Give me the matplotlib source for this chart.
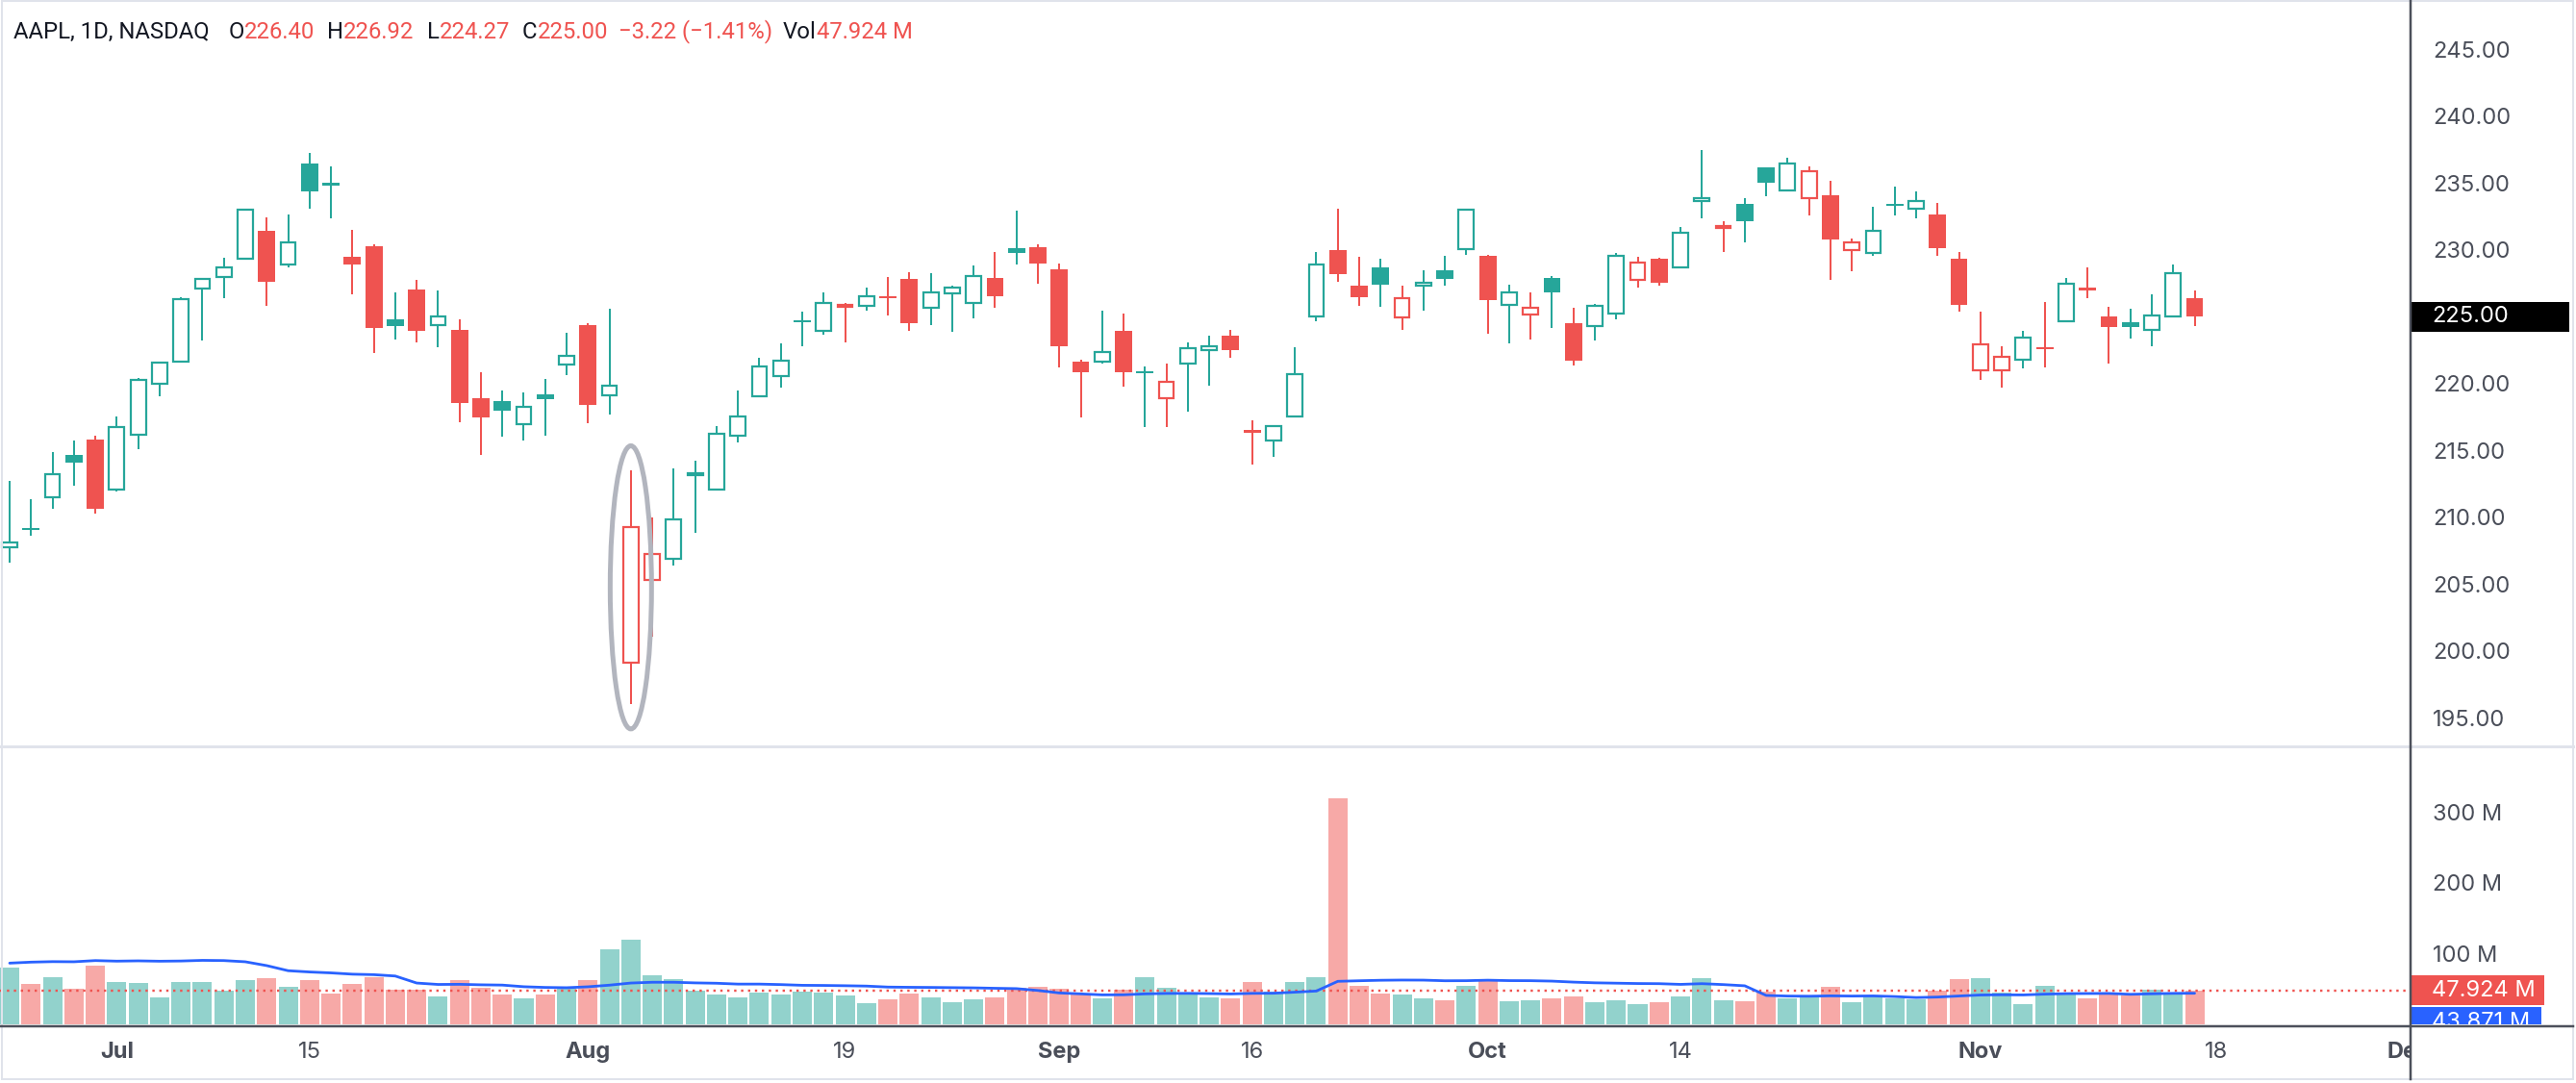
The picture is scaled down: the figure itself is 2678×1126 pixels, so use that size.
import matplotlib
matplotlib.use("Agg")
import numpy as np
import matplotlib.pyplot as plt
from matplotlib.patches import Rectangle, Ellipse
from matplotlib.lines import Line2D
from matplotlib.transforms import blended_transform_factory

plt.rcParams['font.family'] = ['Inter', 'DejaVu Sans']

# ---- data (AAPL daily) ----
symbol, interval, exchange = "AAPL", "1D", "NASDAQ"

dates = ["06-24", "06-25", "06-26", "06-27", "06-28",
         "07-01", "07-02", "07-03", "07-05", "07-08", "07-09", "07-10", "07-11", "07-12",
         "07-15", "07-16", "07-17", "07-18", "07-19", "07-22", "07-23", "07-24", "07-25",
         "07-26", "07-29", "07-30", "07-31",
         "08-01", "08-02", "08-05", "08-06", "08-07", "08-08", "08-09", "08-12", "08-13",
         "08-14", "08-15", "08-16", "08-19", "08-20", "08-21", "08-22", "08-23", "08-26",
         "08-27", "08-28", "08-29", "08-30",
         "09-03", "09-04", "09-05", "09-06", "09-09", "09-10", "09-11", "09-12", "09-13",
         "09-16", "09-17", "09-18", "09-19", "09-20", "09-23", "09-24", "09-25", "09-26",
         "09-27", "09-30",
         "10-01", "10-02", "10-03", "10-04", "10-07", "10-08", "10-09", "10-10", "10-11",
         "10-14", "10-15", "10-16", "10-17", "10-18", "10-21", "10-22", "10-23", "10-24",
         "10-25", "10-28", "10-29", "10-30", "10-31",
         "11-01", "11-04", "11-05", "11-06", "11-07", "11-08", "11-11", "11-12", "11-13",
         "11-14", "11-15"]

opens = [207.72, 209.15, 211.50, 214.69, 215.77,
         212.09, 216.15, 220.00, 221.65, 227.09, 227.93, 229.30, 231.39, 228.92, 236.48, 235.00,
         229.45, 230.28, 224.82, 227.01, 224.37, 224.00, 218.93, 218.70, 216.96, 219.19, 221.44,
         224.37, 219.15, 199.09, 205.30, 206.90, 213.11, 212.10, 216.07, 219.01, 220.57, 224.60,
         223.92, 225.72, 225.77, 226.52, 227.79, 225.66, 226.76, 226.00, 227.92, 230.10, 230.19,
         228.55, 221.66, 221.63, 223.95, 220.82, 218.92, 221.46, 222.50, 223.58, 216.54, 215.75,
         217.55, 224.99, 229.97, 227.34, 228.65, 224.93, 227.30, 228.46, 230.04,
         229.52, 225.89, 225.14, 227.90, 224.50, 224.30, 225.23, 227.78, 229.30, 228.70, 233.61,
         231.60, 233.43, 236.18, 234.45, 233.89, 234.08, 229.98, 229.74, 233.32, 233.10, 232.61,
         229.34,
         220.97, 220.99, 221.80, 222.61, 224.63, 227.17, 225.00, 224.55, 224.01, 225.02, 226.40]

highs = [212.70, 211.38, 214.86, 215.74, 216.07,
         217.51, 220.38, 221.55, 226.45, 227.85, 229.40, 233.08, 232.39, 232.64, 237.23, 236.27,
         231.46, 230.44, 226.80, 227.78, 226.94, 224.80, 220.85, 219.49, 219.30, 220.33, 223.82,
         224.48, 225.60, 213.50, 209.99, 213.64, 214.20, 216.78, 219.51, 221.89, 223.03, 225.35,
         226.83, 225.99, 227.17, 227.98, 228.34, 228.22, 227.28, 228.85, 229.86, 232.92, 230.40,
         229.00, 221.78, 225.48, 225.24, 221.27, 221.48, 223.09, 223.55, 224.04, 217.22, 216.90,
         222.71, 229.82, 233.09, 229.45, 229.35, 227.29, 228.50, 229.52, 233.00,
         229.65, 227.37, 226.81, 228.00, 225.69, 225.98, 229.75, 229.50, 229.41, 231.73, 237.49,
         232.12, 233.85, 236.18, 236.85, 236.22, 235.14, 230.82, 233.22, 234.73, 234.33, 233.47,
         229.83,
         225.35, 222.79, 223.95, 226.07, 227.88, 228.66, 225.70, 225.59, 226.65, 228.87, 226.92]

lows = [206.59, 208.61, 210.64, 212.35, 210.30,
        211.92, 215.10, 219.03, 221.65, 223.25, 226.37, 229.25, 225.77, 228.68, 233.09, 232.33,
        226.64, 222.27, 223.28, 223.09, 222.68, 217.13, 214.62, 216.01, 215.75, 216.12, 220.63,
        217.02, 217.71, 196.00, 201.07, 206.39, 208.83, 211.97, 215.60, 219.01, 219.70, 222.76,
        223.65, 223.04, 225.45, 225.05, 223.90, 224.33, 223.89, 224.89, 225.68, 228.88, 227.48,
        221.17, 217.48, 221.52, 219.77, 216.71, 216.73, 217.89, 219.82, 221.91, 213.92, 214.50,
        217.54, 224.63, 227.62, 225.81, 225.73, 224.02, 225.41, 227.30, 229.65,
        223.74, 223.02, 223.32, 224.13, 221.33, 223.25, 224.83, 227.17, 227.34, 228.60, 232.37,
        229.84, 230.52, 234.01, 234.45, 232.60, 227.76, 228.41, 229.57, 232.55, 232.32, 229.55,
        225.37,
        220.27, 219.71, 221.14, 221.19, 224.57, 226.41, 221.50, 223.36, 222.76, 225.00, 224.27]

closes = [208.14, 209.07, 213.25, 214.10, 210.62,
          216.75, 220.27, 221.55, 226.34, 227.82, 228.68, 232.98, 227.57, 230.54, 234.40, 234.82,
          228.88, 224.18, 224.31, 223.96, 225.01, 218.54, 217.49, 217.96, 218.24, 218.80, 222.08,
          218.36, 219.86, 209.27, 207.23, 209.82, 213.31, 216.24, 217.53, 221.27, 221.72, 224.72,
          226.05, 225.89, 226.51, 226.40, 224.53, 226.84, 227.18, 228.03, 226.49, 229.79, 229.00,
          222.77, 220.85, 222.38, 220.82, 220.91, 220.11, 222.66, 222.77, 222.50, 216.32, 216.79,
          220.69, 228.87, 228.20, 226.47, 227.37, 226.37, 227.52, 227.79, 233.00,
          226.21, 226.78, 225.67, 226.80, 221.69, 225.77, 229.54, 229.04, 227.55, 231.30, 233.85,
          231.78, 232.15, 235.00, 236.48, 235.86, 230.76, 230.57, 231.41, 233.40, 233.67, 230.10,
          225.91,
          222.91, 222.01, 223.45, 222.72, 227.48, 226.96, 224.23, 224.23, 225.12, 228.22, 225.00]
prev_close = 207.49  # close before the first visible bar

# volume in millions
volumes = [80.727, 56.713, 66.213, 49.772, 82.542,
           60.402, 58.046, 37.369, 60.413, 59.085, 48.076, 62.627, 64.710, 53.046, 62.631, 43.234,
           57.345, 66.034, 49.151, 48.201, 39.960, 61.777, 51.391, 41.601, 36.311, 41.643, 50.036,
           62.501, 105.569, 119.549, 69.353, 63.516, 47.162, 42.201, 38.028, 44.155, 41.961,
           46.414, 44.340, 40.687, 30.299, 34.765, 43.695, 38.677, 30.602, 35.934, 38.052, 51.906,
           52.990,
           50.190, 43.840, 36.615, 48.423, 67.180, 51.591, 44.587, 37.455, 36.766, 59.357, 45.519,
           59.894, 66.781, 318.679, 54.146, 43.556, 42.308, 36.636, 34.026, 54.541,
           63.285, 32.881, 34.044, 37.245, 39.505, 31.856, 33.591, 28.183, 31.759, 39.882, 64.751,
           34.083, 32.993, 46.431, 36.254, 38.846, 52.287, 31.109, 38.802, 36.087, 35.418, 47.071,
           64.370,
           65.276, 44.944, 28.111, 54.562, 42.137, 36.075, 42.005, 40.398, 48.567, 44.923, 47.924]

# volume moving average line (blue), millions
vol_ma = [86.4, 87.8, 88.5, 88.3, 90.0, 89.2, 89.6, 89.1, 89.4, 90.3,
          90.0, 88.3, 82.9, 75.7, 73.9, 72.6, 70.8, 70.1, 68.2, 58.3,
          56.3, 56.5, 55.8, 55.4, 53.1, 52.1, 51.7, 53.0, 55.3, 58.3,
          59.4, 59.4, 58.5, 58.0, 56.8, 56.8, 56.1, 55.1, 54.9, 54.5,
          54.0, 52.6, 52.3, 52.1, 51.8, 51.5, 50.9, 50.4, 47.8, 44.3,
          43.0, 41.6, 41.7, 43.0, 43.6, 43.7, 43.4, 42.9, 43.7, 43.9,
          45.4, 47.0, 60.7, 61.5, 62.2, 62.5, 62.4, 61.5, 61.6, 62.3,
          61.7, 61.6, 61.0, 59.6, 58.6, 58.1, 57.6, 57.4, 56.4, 57.4,
          56.1, 54.4, 40.8, 39.9, 39.7, 40.2, 39.9, 40.1, 39.2, 37.8,
          38.5, 40.0, 41.4, 41.7, 41.5, 42.6, 43.3, 43.5, 43.6, 42.4,
          43.1, 43.7, 43.871]

time_ticks = [("07-01", "Jul", True), ("07-15", "15", False), ("08-01", "Aug", True),
              ("08-19", "19", False), ("09-03", "Sep", True), ("09-16", "16", False),
              ("10-01", "Oct", True), ("10-14", "14", False), ("11-01", "Nov", True)]
future_ticks = [(1, "18", False), (10, "Dec", True)]  # trading days after last bar

price_ticks = [195, 200, 205, 210, 215, 220, 225, 230, 235, 240, 245]
vol_ticks = [100, 200, 300]
highlight_day = "08-05"

# ---- style ----
UP, DOWN = '#26a69a', '#ef5350'
UP_VOL, DOWN_VOL = '#92d2cc', '#f7a9a7'
MA_COL = '#2962ff'
TXT = '#131722'
AX_TXT = '#4a4e59'
W, H, DPI = 2678, 1126, 100
PX = 72 / DPI

fig = plt.figure(figsize=(W / DPI, H / DPI), dpi=DPI, facecolor='white')


def px_axes(x0, y0, x1, y1):
    return fig.add_axes([x0 / W, 1 - y1 / H, (x1 - x0) / W, (y1 - y0) / H])


X_RIGHT = 2506
ax_p = px_axes(0, 0, X_RIGHT, 775)
ax_v = px_axes(0, 777, X_RIGHT, 1065)
ax_t = px_axes(0, 1068, X_RIGHT, 1122)
ax_ps = px_axes(X_RIGHT, 0, W - 3, 775)
ax_vs = px_axes(X_RIGHT, 777, W - 3, 1065)

xlim = (-0.45, 112.08)
plim = (192.93, 248.68)
vlim = (0, 391)
for a in (ax_p, ax_v, ax_t):
    a.set_xlim(*xlim)
ax_p.set_ylim(*plim)
ax_ps.set_ylim(*plim)
ax_v.set_ylim(*vlim)
ax_vs.set_ylim(*vlim)
for a in (ax_p, ax_v, ax_t, ax_ps, ax_vs):
    for s in a.spines.values():
        s.set_visible(False)
    a.set_xticks([])
    a.patch.set_alpha(0)
for a in (ax_t, ax_ps, ax_vs):
    a.set_yticks([])

x = np.arange(len(dates))
prev = [prev_close] + closes[:-1]

# ---- candles ----
for i in x:
    o, h, l, c = opens[i], highs[i], lows[i], closes[i]
    col = DOWN if c < prev[i] else UP
    ax_p.vlines(i, l, h, color=col, lw=2 * PX, zorder=2)
    lo, hi = min(o, c), max(o, c)
    if hi - lo < 0.16:
        mid = (o + c) / 2
        ax_p.add_patch(Rectangle((i - 0.4, mid - 0.08), 0.8, 0.16, fc=col, ec='none', zorder=3))
    elif c > o:
        ax_p.add_patch(Rectangle((i - 0.355, lo), 0.71, hi - lo, fc='white', ec=col,
                                 lw=2.2 * PX, zorder=3))
    else:
        ax_p.add_patch(Rectangle((i - 0.4, lo), 0.8, hi - lo, fc=col, ec='none', zorder=3))

# highlight ring around the gap-down day
k = dates.index(highlight_day)
ax_p.add_patch(Ellipse((k, (highs[k] + lows[k]) / 2), 1.93, (highs[k] - lows[k]) * 1.21,
                       fill=False, ec='#b2b5be', lw=5 * PX, zorder=4))

# ---- volume ----
vcol = [UP_VOL if c >= o else DOWN_VOL for o, c in zip(opens, closes)]
ax_v.bar(x, volumes, width=0.9, color=vcol, zorder=2)
ax_v.axhline(volumes[-1], color=DOWN, lw=2.4 * PX, ls=(0, (1.0, 2.0)), zorder=4)
ax_v.plot(x, vol_ma, color=MA_COL, lw=2.8 * PX, zorder=5, solid_capstyle='round')

# ---- right scales ----
ax_p.yaxis.tick_right()
ax_p.set_yticks(price_ticks)
ax_p.set_yticklabels([f"{v:.2f}" for v in price_ticks])
ax_v.yaxis.tick_right()
ax_v.set_yticks(vol_ticks)
ax_v.set_yticklabels([f"{v} M" for v in vol_ticks])
for a in (ax_p, ax_v):
    a.tick_params(axis='y', length=0, pad=16.5, labelsize=17, labelcolor=AX_TXT)

# last value labels
tr_p = blended_transform_factory(ax_ps.transAxes, ax_ps.transData)
bh_p = 31 / (775 / (plim[1] - plim[0]))
ax_ps.add_patch(Rectangle((0.005, closes[-1] - bh_p / 2), 0.97, bh_p, transform=tr_p,
                          fc='black', ec='none', zorder=5))
ax_ps.text(0.13, closes[-1], f"{closes[-1]:.2f}", transform=tr_p, color='white',
           fontsize=17, va='center', ha='left', zorder=6)

tr_v = blended_transform_factory(ax_vs.transAxes, ax_vs.transData)
v_scale = 288 / (vlim[1] - vlim[0])
bh_v = 31 / v_scale
red_lo = volumes[-1] - bh_v / 2
ax_vs.add_patch(Rectangle((0.005, red_lo), 0.82, bh_v, transform=tr_v,
                          fc=DOWN, ec='none', zorder=5, clip_on=True))
ax_vs.text(0.13, volumes[-1], f"{volumes[-1]:.3f} M", transform=tr_v, color='white',
           fontsize=17, va='center', ha='left', zorder=6, clip_on=True)
blue_hi = red_lo - 2 / v_scale
ax_vs.add_patch(Rectangle((0.005, blue_hi - bh_v), 0.8, bh_v, transform=tr_v,
                          fc=MA_COL, ec='none', zorder=5, clip_on=True))
ax_vs.text(0.13, blue_hi - bh_v / 2, f"{vol_ma[-1]:.3f} M", transform=tr_v, color='white',
           fontsize=17, va='center', ha='left', zorder=6, clip_on=True)

# ---- time axis ----
ticks = [(dates.index(d), s, b) for d, s, b in time_ticks]
ticks += [(len(dates) - 1 + n, s, b) for n, s, b in future_ticks]
for pos, s, bold in ticks:
    ax_t.text(pos, 0.52, s, ha='center', va='center', fontsize=17, color=AX_TXT,
              fontweight='bold' if bold else 'normal', clip_on=True)

# ---- frame lines ----
def hline(y, x0, x1, col, lw):
    fig.add_artist(Line2D([x0 / W, x1 / W], [1 - y / H, 1 - y / H], color=col, lw=lw * PX))


def vline(xp, y0, y1, col, lw):
    fig.add_artist(Line2D([xp / W, xp / W], [1 - y0 / H, 1 - y1 / H], color=col, lw=lw * PX))


hline(776, 0, W - 3, '#e0e3eb', 3)
hline(1066.5, 0, W - 3, '#4c505b', 2.5)
vline(X_RIGHT, 0, 1122, '#4c505b', 2.5)
fig.add_artist(Rectangle((2 / W, 4 / H), (W - 5) / W, (H - 5) / H, transform=fig.transFigure,
                         fill=False, ec='#e0e3eb', lw=2 * PX))

# ---- header ----
chg = closes[-1] - closes[-2]
pct = chg / closes[-2] * 100
vc = DOWN if chg < 0 else UP
pieces = [(f"{symbol}, {interval}, {exchange}", TXT, 0),
          ("O", TXT, 20), (f"{opens[-1]:.2f}", vc, 0),
          ("H", TXT, 13), (f"{highs[-1]:.2f}", vc, 0),
          ("L", TXT, 13), (f"{lows[-1]:.2f}", vc, 0),
          ("C", TXT, 13), (f"{closes[-1]:.2f}", vc, 0),
          (f"{chg:+.2f} ({pct:+.2f}%)".replace("-", "\u2212"), vc, 11),
          ("Vol", TXT, 11), (f"{volumes[-1]:.3f} M", vc, 0)]
renderer = fig.canvas.get_renderer()
xpos = 14
for s, col, gap in pieces:
    xpos += gap
    t = fig.text(xpos / W, 1 - 39.5 / H, s, color=col, fontsize=17.2, ha='left',
                 va='baseline', family=['Roboto', 'DejaVu Sans'])
    xpos = t.get_window_extent(renderer).x1

fig.savefig("out.png", dpi=DPI, facecolor='white')
